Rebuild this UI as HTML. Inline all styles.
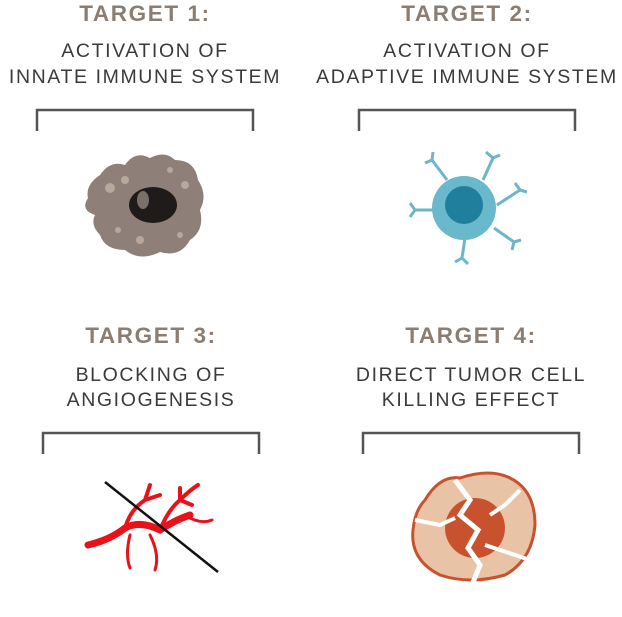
<!DOCTYPE html>
<html><head><meta charset="utf-8"><style>
body{margin:0;background:#fff;width:622px;height:617px;overflow:hidden}
svg{display:block}
.t{font-family:"Liberation Sans",sans-serif;font-weight:bold;font-size:22.5px;fill:#8c7d72;letter-spacing:1.6px;text-anchor:middle}
.s{font-family:"Liberation Sans",sans-serif;font-size:19.5px;fill:#3a3a3a;letter-spacing:1.6px;text-anchor:middle}
.b{fill:none;stroke:#555;stroke-width:2.5}
</style></head><body>
<svg width="622" height="617" viewBox="0 0 622 617">
<text class="t" x="145" y="21">TARGET 1:</text>
<text class="s" x="145" y="57">ACTIVATION OF</text>
<text class="s" x="145" y="83">INNATE IMMUNE SYSTEM</text>
<text class="t" x="467" y="21">TARGET 2:</text>
<text class="s" x="467" y="57">ACTIVATION OF</text>
<text class="s" x="467" y="83">ADAPTIVE IMMUNE SYSTEM</text>
<text class="t" x="151" y="343">TARGET 3:</text>
<text class="s" x="151" y="381">BLOCKING OF</text>
<text class="s" x="151" y="406">ANGIOGENESIS</text>
<text class="t" x="471" y="343">TARGET 4:</text>
<text class="s" x="471" y="381">DIRECT TUMOR CELL</text>
<text class="s" x="471" y="406">KILLING EFFECT</text>
<path class="b" d="M37 131V110H253V131"/>
<path class="b" d="M359 131V110H575V131"/>
<path class="b" d="M43 454V433H259V454"/>
<path class="b" d="M363 454V433H579V454"/>
<!-- macrophage -->
<path d="M100 175 Q110 160 125 165 Q135 150 150 158 Q165 150 175 160 Q195 160 198 180 Q208 195 200 210 Q205 230 190 240 Q180 258 160 252 Q140 262 125 250 Q105 250 100 235 Q90 225 95 215 Q80 210 88 198 Q85 185 100 175Z" fill="#8e8078"/>
<g fill="#b8a79c"><circle cx="110" cy="188" r="5"/><circle cx="125" cy="180" r="4"/><circle cx="118" cy="230" r="3"/><circle cx="185" cy="185" r="4"/><circle cx="180" cy="235" r="3"/><circle cx="140" cy="240" r="4"/><circle cx="170" cy="170" r="3"/></g>
<ellipse cx="153" cy="205" rx="24" ry="18" fill="#1e1b1a"/>
<ellipse cx="143" cy="200" rx="6" ry="9" fill="#7a706a"/>
<!-- T cell -->
<g stroke="#6bb6c9" stroke-width="3" fill="none">
<path d="M447 180L432 160M432 160L425 163M432 160L433 152"/>
<path d="M483 180L493 158M493 158L486 152M493 158L500 155"/>
<path d="M497 205L520 190M520 190L515 183M520 190L527 192"/>
<path d="M437 210L415 210M415 210L410 203M415 210L410 217"/>
<path d="M465 238L462 258M462 258L455 262M462 258L468 264"/>
<path d="M494 228L514 242M514 242L512 250M514 242L521 240"/>
</g>
<circle cx="464" cy="208" r="32" fill="#6ab8cc"/>
<circle cx="464" cy="205" r="19" fill="#1f7f9c"/>
<!-- vessels -->
<g stroke="#e8131a" fill="none" stroke-linecap="round">
<path d="M88 545 Q110 540 125 528 Q140 520 160 530 Q175 520 190 515" stroke-width="7"/>
<path d="M125 528 Q130 510 145 500 M145 500L150 485 M145 500L160 495" stroke-width="4"/>
<path d="M160 530 Q168 510 180 500 Q190 490 198 485 M180 500L180 488 M180 500L192 505" stroke-width="4"/>
<path d="M150 535 Q160 555 155 570 M130 535 Q125 555 130 568 M185 515 Q200 525 212 520" stroke-width="3"/>
</g>
<line x1="105" y1="482" x2="218" y2="572" stroke="#111" stroke-width="2.5"/>
<!-- tumor -->
<path d="M425 500 Q440 475 460 478 Q490 468 510 478 Q535 490 535 525 Q532 560 505 575 Q470 585 440 575 Q410 560 413 530 Q415 510 425 500Z" fill="#e9c3a6" stroke="#c9522e" stroke-width="3"/>
<circle cx="475" cy="528" r="30" fill="#c9522e"/>
<path d="M455 480L470 500L460 515L478 530L468 548L480 565L472 585" stroke="#fff" stroke-width="5" fill="none"/>
<path d="M415 520L440 525L455 518M490 515L505 505L520 490M485 545L500 550L530 560" stroke="#fff" stroke-width="4" fill="none"/>
</svg>
</body></html>
